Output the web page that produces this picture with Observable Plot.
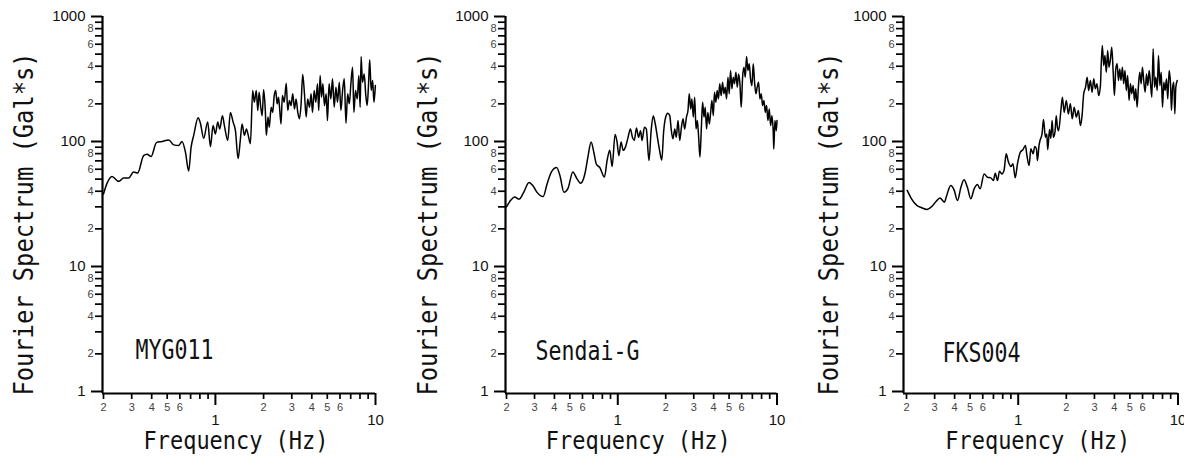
<!DOCTYPE html>
<html>
<head>
<meta charset="utf-8">
<script src="https://cdn.jsdelivr.net/npm/d3@7"></script>
<script src="https://cdn.jsdelivr.net/npm/@observablehq/plot@0.6"></script>
<style>
html, body { margin: 0; padding: 0; background: #fff; }
#chart { position: relative; width: 1184px; height: 457px; overflow: hidden; background: #fff; }
#chart svg { position: absolute; top: 0; }
</style>
</head>
<body>
<div id="chart"></div>
<script>
// ---------------- data (frequency in Hz, amplitude in Gal*s) ----------------
const stations = ["MYG011", "Sendai-G", "FKS004"];

const myg011 = [
  [0.2,38],[0.21,46],[0.226,52.5],[0.249,48],[0.267,51],[0.287,51],[0.308,57],[0.327,56],
  [0.356,77],[0.374,79],[0.397,76],[0.428,98],[0.465,100],[0.511,103],[0.549,94],[0.59,93],
  [0.619,100],[0.65,82],[0.681,58],[0.705,90],[0.732,112],[0.78,155],[0.806,140],[0.845,106],
  [0.895,143],[0.931,91],[0.967,134],[1.0,115],[1.034,143],[1.064,126],[1.106,161],[1.138,134],
  [1.194,102],[1.24,171],[1.29,143],[1.334,122],[1.386,73],[1.43,102],[1.468,138],[1.518,112],
  [1.562,126],[1.614,108],[1.654,96],[1.71,256],[1.75,206],[1.8,256],[1.84,177],[1.875,248],
  [1.92,188],[1.96,161],[2.0,259],[2.05,177],[2.08,112],[2.13,157],[2.17,130],[2.23,188],
  [2.28,171],[2.33,233],[2.38,256],[2.43,200],[2.48,226],[2.52,182],[2.57,138],[2.62,233],
  [2.69,206],[2.77,293],[2.83,177],[2.9,213],[2.97,194],[3.04,241],[3.12,182],[3.19,219],
  [3.27,171],[3.35,152],[3.43,200],[3.51,344],[3.6,241],[3.69,157],[3.77,219],[3.87,188],
  [3.96,241],[4.04,171],[4.14,256],[4.24,206],[4.34,290],[4.42,177],[4.51,337],[4.6,226],
  [4.69,290],[4.8,194],[4.92,241],[5.01,147],[5.13,290],[5.26,219],[5.39,317],[5.52,188],
  [5.66,272],[5.79,206],[5.94,298],[6.08,177],[6.23,256],[6.38,317],[6.54,140],[6.7,241],
  [6.86,200],[7.02,290],[7.19,393],[7.33,171],[7.5,256],[7.69,219],[7.87,337],[8.02,188],
  [8.13,479],[8.29,298],[8.5,347],[8.7,233],[8.87,194],[9.05,290],[9.2,451],[9.4,256],
  [9.6,308],[9.78,206],[9.98,280]
];

const sendaiG = [
  [0.2,30],[0.213,34],[0.225,36],[0.24,34.6],[0.255,38.6],[0.277,47],[0.294,44],[0.312,39],
  [0.34,36.3],[0.36,46],[0.384,57.5],[0.413,62],[0.433,53.5],[0.459,39.3],[0.486,42],[0.522,57],
  [0.551,51],[0.584,46.4],[0.621,55],[0.649,75],[0.68,99],[0.707,82],[0.735,65.5],[0.771,62],
  [0.825,52],[0.857,70.5],[0.891,85],[0.921,63],[0.962,114],[0.99,99],[1.015,77],[1.049,99],
  [1.08,85],[1.12,91],[1.16,108],[1.2,126],[1.236,108],[1.27,102],[1.31,128],[1.35,108],
  [1.39,122],[1.42,102],[1.47,130],[1.51,126],[1.57,70.5],[1.62,122],[1.67,161],[1.72,138],
  [1.78,105],[1.83,85],[1.89,71],[1.94,119],[2.0,157],[2.06,168],[2.12,161],[2.17,122],
  [2.22,105],[2.28,126],[2.33,108],[2.39,147],[2.45,102],[2.51,130],[2.57,152],[2.63,126],
  [2.7,157],[2.76,177],[2.81,241],[2.87,182],[2.92,219],[2.98,157],[3.04,226],[3.1,126],
  [3.16,147],[3.22,108],[3.28,75],[3.35,130],[3.41,206],[3.48,157],[3.54,188],[3.61,126],
  [3.68,171],[3.76,138],[3.83,171],[3.9,213],[3.98,161],[4.05,248],[4.13,206],[4.21,256],
  [4.29,219],[4.37,290],[4.46,233],[4.55,298],[4.64,241],[4.73,272],[4.82,219],[4.92,327],
  [5.01,241],[5.11,370],[5.21,264],[5.31,327],[5.41,290],[5.52,358],[5.63,272],[5.74,347],
  [5.85,290],[5.96,188],[6.08,327],[6.2,393],[6.32,327],[6.44,479],[6.57,370],[6.69,418],
  [6.82,317],[6.96,280],[7.09,418],[7.23,298],[7.37,241],[7.51,272],[7.66,298],[7.81,219],
  [7.96,241],[8.12,194],[8.28,213],[8.44,171],[8.6,194],[8.77,147],[8.94,182],[9.12,134],
  [9.29,161],[9.48,115],[9.55,87],[9.7,147],[9.9,122],[10,147]
];

const fks004 = [
  [0.202,40.6],[0.215,34.8],[0.232,30.8],[0.249,29.5],[0.268,28.6],[0.288,30.2],[0.306,33.1],
  [0.324,35.4],[0.345,32.7],[0.357,37],[0.378,44.5],[0.397,41],[0.417,33.7],[0.438,43],
  [0.458,49.4],[0.481,43],[0.505,34.8],[0.53,41.8],[0.556,45.3],[0.578,41.8],[0.612,55],
  [0.642,51.8],[0.674,51.2],[0.7,48.8],[0.718,55.7],[0.742,48.8],[0.764,57.9],[0.79,55],
  [0.817,59.5],[0.841,79.7],[0.869,68.4],[0.9,63],[0.927,66.5],[0.958,51.2],[0.99,66.5],
  [1.03,82],[1.07,85.8],[1.11,93],[1.13,79.7],[1.17,64.3],[1.2,87.4],[1.24,79.7],[1.27,91.2],
  [1.3,87.4],[1.32,70.5],[1.35,93],[1.37,102],[1.41,115],[1.44,150],[1.48,108],[1.51,115],
  [1.53,86],[1.57,125],[1.6,106],[1.63,147],[1.66,108],[1.7,120],[1.73,161],[1.76,130],
  [1.79,122],[1.85,177],[1.89,226],[1.94,171],[2.0,213],[2.06,166],[2.12,200],[2.18,152],
  [2.24,188],[2.31,157],[2.38,177],[2.45,134],[2.51,161],[2.57,241],[2.64,272],[2.7,327],
  [2.76,256],[2.83,308],[2.9,248],[2.97,317],[3.04,264],[3.11,290],[3.19,233],[3.27,280],
  [3.31,418],[3.36,586],[3.43,405],[3.49,488],[3.56,358],[3.63,535],[3.7,393],[3.78,458],
  [3.85,568],[3.93,358],[4.0,233],[4.08,381],[4.16,418],[4.24,308],[4.32,381],[4.4,308],
  [4.49,393],[4.57,290],[4.66,370],[4.75,256],[4.84,337],[4.94,213],[5.04,290],[5.13,241],
  [5.24,280],[5.34,213],[5.44,264],[5.55,188],[5.65,272],[5.76,358],[5.88,290],[5.99,393],
  [6.1,308],[6.23,248],[6.35,347],[6.47,280],[6.6,370],[6.72,298],[6.86,226],[6.99,552],
  [7.13,272],[7.26,327],[7.41,256],[7.55,488],[7.7,280],[7.85,358],[8.0,188],[8.15,298],
  [8.31,256],[8.47,317],[8.63,219],[8.8,370],[8.98,290],[9.1,177],[9.24,264],[9.41,298],
  [9.55,166],[9.69,272],[9.89,308]
];

const xDomain = [0.2, 10];
const yDomain = [1, 1000];
const xMajorTicks = [1, 10];
const xMinorTicks = [0.2, 0.3, 0.4, 0.5, 0.6, 0.7, 0.8, 0.9, 2, 3, 4, 5, 6, 7, 8, 9];
const xMinorLabelled = [0.2, 0.3, 0.4, 0.5, 0.6, 2, 3, 4, 5, 6];
const yMajorTicks = [1, 10, 100, 1000];
const yMinorTicks = [2, 3, 4, 5, 6, 7, 8, 9, 20, 30, 40, 50, 60, 70, 80, 90,
                     200, 300, 400, 500, 600, 700, 800, 900];
const yMinorLabelled = [2, 4, 6, 8, 20, 40, 60, 80, 200, 400, 600, 800];
const xTitle = "Frequency (Hz)";
const yTitle = "Fourier Spectrum (Gal*s)";

// ---------------- helpers ----------------
const leading = d => Math.round(d / Math.pow(10, Math.floor(Math.log10(d) + 1e-9)));

const mono = "'DejaVu Sans Mono', 'Liberation Mono', monospace";
const sans = "'Liberation Sans', Arial, sans-serif";

// horizontally condense a text (to mimic a narrow half-width gothic face)
function squeeze(svg, content, k) {
  svg.querySelectorAll("text").forEach(t => {
    if (t.textContent !== content) return;
    const tr = t.getAttribute("transform") || "";
    const x = t.getAttribute("x"), y = t.getAttribute("y");
    let base = tr;
    if (x != null || y != null) {
      base = `${tr} translate(${x || 0},${y || 0})`;
      t.removeAttribute("x"); t.removeAttribute("y");
    }
    t.setAttribute("transform", `${base} scale(${k},1)`);
  });
}

const H = 457, MT = 16, MB = 64;
const panels = [
  {name: stations[0], data: myg011,  left: 0,   width: 395, marginLeft: 102, marginRight: 20,   inset: 1, titleDx: -70, stationDx: 33, stationDy: -35},
  {name: stations[1], data: sendaiG, left: 400, width: 390, marginLeft: 105, marginRight: 13.5, inset: 1, titleDx: -69, stationDx: 30, stationDy: -34},
  {name: stations[2], data: fks004,  left: 790, width: 394, marginLeft: 113, marginRight: 6.5,  inset: 3, titleDx: -66, stationDx: 39, stationDy: -32}
];

const chart = document.getElementById("chart");

for (const p of panels) {
  const fw = p.width - p.marginLeft - p.marginRight; // frame width
  const fh = H - MT - MB;                              // frame height
  // outward tick marks drawn as short rules anchored on the frame edges
  const yTick = (ticks, len, sw) => Plot.ruleY(ticks, {y: d => d, insetRight: fw - len, dx: -len, stroke: "#000", strokeWidth: sw});
  const xTick = (ticks, len, sw) => Plot.ruleX(ticks, {x: d => d, insetTop: fh - len, dy: len, stroke: "#000", strokeWidth: sw});

  const svg = Plot.plot({
    width: p.width,
    height: H,
    marginLeft: p.marginLeft,
    marginRight: p.marginRight,
    marginTop: MT,
    marginBottom: MB,
    style: {background: "white", overflow: "visible"},
    x: {type: "log", domain: xDomain, insetLeft: p.inset, axis: null, label: null},
    y: {type: "log", domain: yDomain, insetBottom: 2, axis: null, label: null},
    marks: [
      // tick lines
      yTick(yMinorTicks, 7, 1.7),
      yTick(yMajorTicks, 11, 2),
      xTick(xMinorTicks, 6, 1.7),
      xTick(xMajorTicks, 12, 2),
      // tick labels
      Plot.text(yMinorLabelled, {y: d => d, text: d => String(leading(d)), frameAnchor: "left",
                                 textAnchor: "end", dx: -9, fontSize: 11, fontFamily: sans, fill: "#444"}),
      Plot.text(yMajorTicks, {y: d => d, text: d => String(d), frameAnchor: "left",
                              textAnchor: "end", dx: -17, fontSize: 15, fontFamily: sans, fill: "#111"}),
      Plot.text(xMinorLabelled, {x: d => d, text: d => String(leading(d)), frameAnchor: "bottom",
                                 lineAnchor: "top", dy: 10, fontSize: 11, fontFamily: sans, fill: "#444"}),
      Plot.text(xMajorTicks, {x: d => d, text: d => String(d), frameAnchor: "bottom",
                              lineAnchor: "top", dy: 21, fontSize: 15, fontFamily: sans, fill: "#111"}),
      // axis lines
      Plot.ruleX([xDomain[0]], {dx: -p.inset, stroke: "#000", strokeWidth: 2.2}),
      Plot.ruleY([yDomain[0]], {dy: 2, stroke: "#000", strokeWidth: 2.2}),
      // spectrum
      Plot.line(p.data, {x: d => d[0], y: d => d[1], stroke: "#000", strokeWidth: 1.5,
                         curve: "monotone-x", strokeLinejoin: "round"}),
      // titles
      Plot.text([yTitle], {text: d => d, frameAnchor: "left", rotate: -90, textAnchor: "middle",
                           lineAnchor: "bottom", dx: p.titleDx, dy: 19, fontSize: 27,
                           fontFamily: mono, fill: "#111"}),
      Plot.text([xTitle], {text: d => d, frameAnchor: "bottom", textAnchor: "middle",
                           lineAnchor: "bottom", dx: -3, dy: 55, fontSize: 24,
                           fontFamily: mono, fill: "#111"}),
      Plot.text([p.name], {text: d => d, frameAnchor: "bottom-left", textAnchor: "start",
                           lineAnchor: "bottom", dx: p.stationDx, dy: p.stationDy, fontSize: 26,
                           fontFamily: mono, fill: "#111"})
    ]
  });
  squeeze(svg, yTitle, 0.88);
  squeeze(svg, xTitle, 0.914);
  squeeze(svg, p.name, 0.83);
  svg.style.left = p.left + "px";
  svg.style.maxWidth = "none";
  chart.appendChild(svg);
}
</script>
</body>
</html>
